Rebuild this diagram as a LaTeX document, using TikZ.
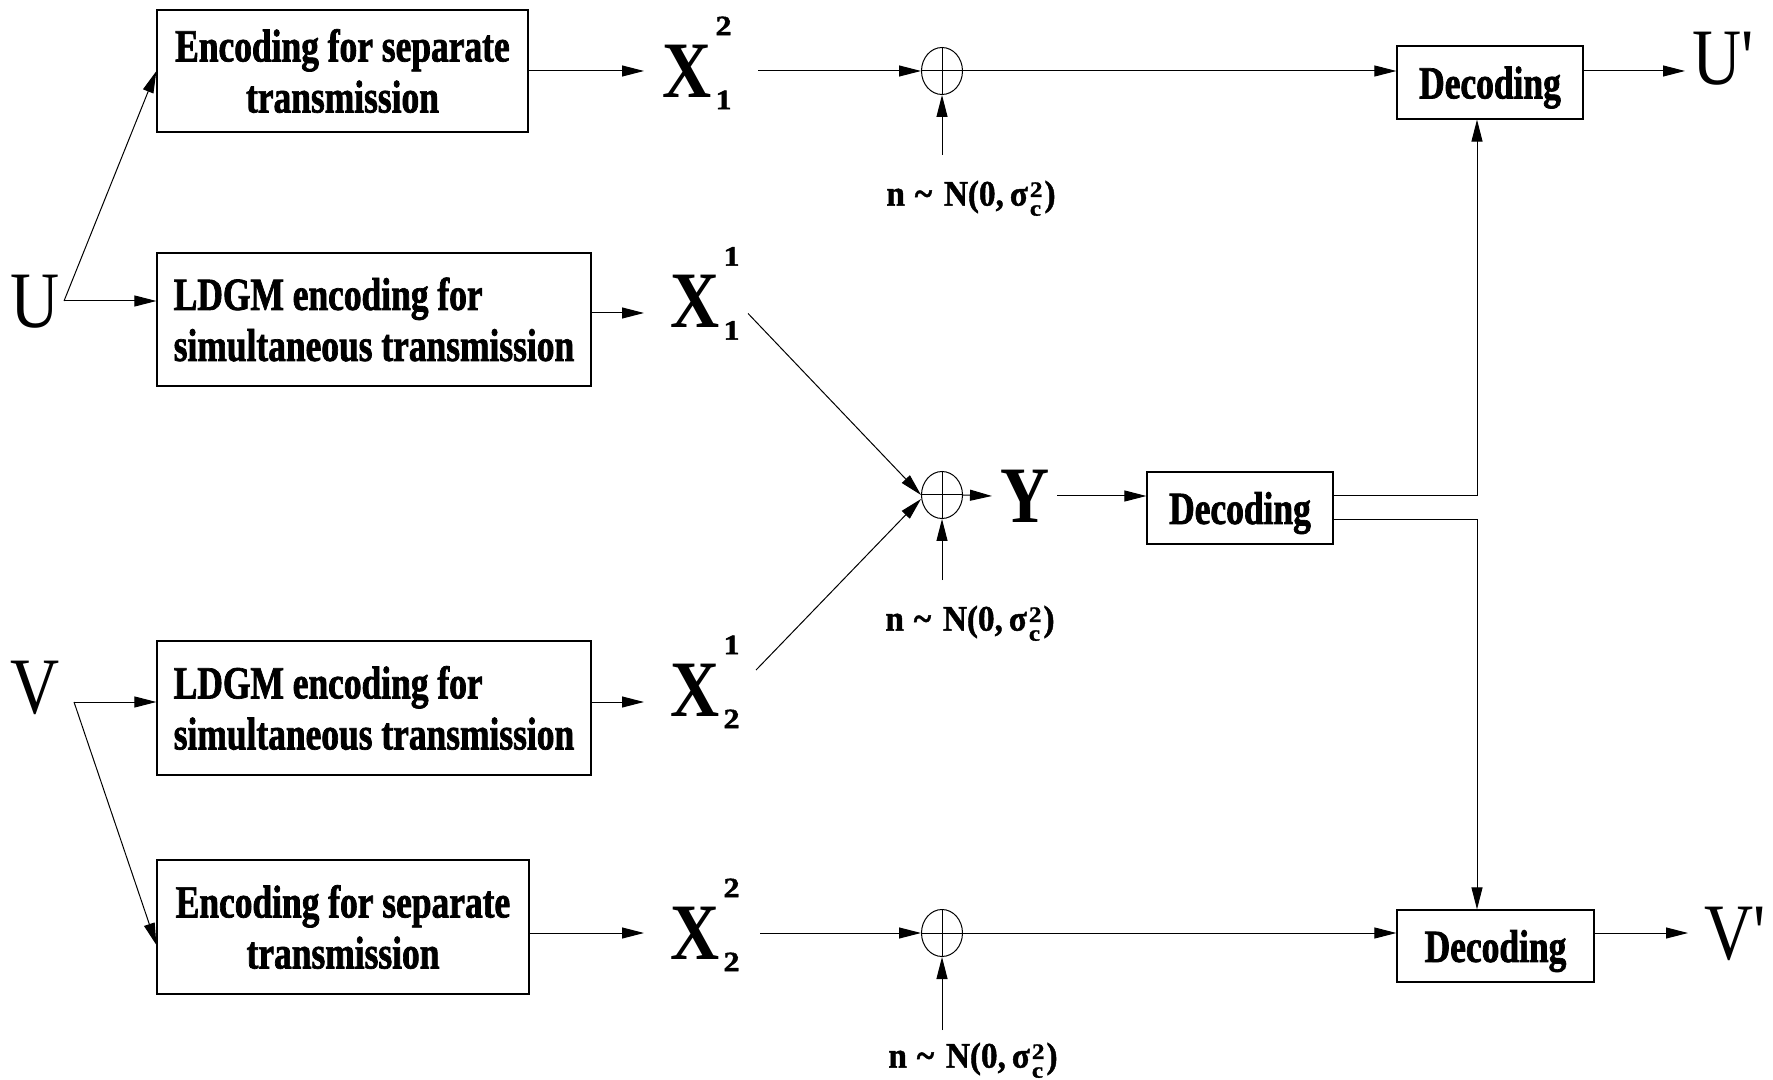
\documentclass[tikz,border=0pt]{standalone}
\usepackage{fontspec}
\newfontfamily\cond{Liberation Serif}[FakeStretch=0.77, BoldFeatures={FakeBold=1.5}]
\newfontfamily\bigfam{Liberation Serif}[FakeStretch=0.85]
\newfontfamily\digfam{Liberation Serif}[FakeStretch=1.15, BoldFeatures={FakeBold=1.5}]
\newfontfamily\noisefam{Liberation Serif}[FakeStretch=0.92, BoldFeatures={FakeBold=1.2}]
\usetikzlibrary{arrows.meta,calc,shapes.geometric}
\newcommand\boxfont{\cond\bfseries\fontsize{23}{25.5}\selectfont}
\newcommand\bigfont{\bigfam\fontsize{40}{40}\selectfont}
\newcommand\digfont{\digfam\bfseries\fontsize{14}{14}\selectfont}
\newcommand\noisefont{\noisefam\bfseries\fontsize{18}{18}\selectfont}
\newcommand\scrfont{\digfam\bfseries\fontsize{11}{11}\selectfont}
\newcommand\xlab[2]{\textbf{X}\rlap{\hspace{2pt}\smash{\digfont\raisebox{-6pt}{#1}}}\rlap{\hspace{2pt}\smash{\digfont\raisebox{31pt}{#2}}}}
\newcommand\noiselab{n\hspace{5pt}\textasciitilde\hspace{6pt}N(0,\hspace{3pt}σ\hspace{1pt}\smash{\raisebox{-5pt}{\scrfont\def\arraystretch{0.85}\begin{tabular}[b]{@{}l@{}}2\\c\end{tabular}}}\hspace{1pt})}
\begin{document}
\begin{tikzpicture}[x=0.5pt,y=-0.5pt,
  line width=0.5pt,
  arr/.style={-{Triangle[length=11pt,width=5.5pt]}},
  blk/.style={draw,line width=0.6pt,inner sep=0pt,font=\boxfont},
  decbox/.style={blk,text depth=0pt},
  big/.style={inner sep=0pt,font=\bigfont},
  sum/.style={draw,ellipse,inner sep=0pt,minimum width=20.5pt,minimum height=23.5pt},
  noise/.style={inner sep=0pt,font=\noisefont}]
\useasboundingbox (0,0) rectangle (1773,1080);
\fill[white] (0,0) rectangle (1773,1080);

% encoder boxes
\node[blk,minimum width=185.5pt,minimum height=61pt,align=center] (box1) at (342.5,71) {Encoding for separate\\transmission};
\node[blk,minimum width=217pt,minimum height=66.5pt,align=left] (box2) at (374,319.5) {LDGM encoding for\\simultaneous transmission};
\node[blk,minimum width=217pt,minimum height=67pt,align=left] (box3) at (374,708) {LDGM encoding for\\simultaneous transmission};
\node[blk,minimum width=186pt,minimum height=67pt,align=center] (box4) at (343,927) {Encoding for separate\\transmission};

% decoders
\node[decbox,minimum width=93pt,minimum height=36.5pt] (dec1) at (1490,82.5) {Decoding};
\node[decbox,minimum width=93pt,minimum height=36pt] (dec2) at (1240,508) {Decoding};
\node[decbox,minimum width=98.5pt,minimum height=36pt] (dec3) at (1495.5,946) {Decoding};

% letters
\node[big] (u) at (35,302) {U};
\node[big] (v) at (35,688) {V};
\node[big] (up) at (1724,59) {U\textquotesingle};
\node[big] (vp) at (1736,934) {V\textquotesingle};
\node[big] (x12) at (687,71) {\xlab{1}{2}};
\node[big] (x11) at (695,301.5) {\xlab{1}{1}};
\node[big] (x21) at (695,690) {\xlab{2}{1}};
\node[big] (x22) at (695,933) {\xlab{2}{2}};
\node[big,font=\bigfont\bfseries] (ysig) at (1025,496) {Y};

% adders
\node[sum] (c1) at (942,71) {};
\node[sum] (c2) at (942,495) {};
\node[sum] (c3) at (942,933) {};
\foreach \c in {c1,c2,c3} {\draw (\c.north) -- (\c.south); \draw (\c.west) -- (\c.east);}

% noise
\node[noise] (l1) at (971,197) {\noiselab};
\node[noise] (l2) at (970,622) {\noiselab};
\node[noise] (l3) at (973,1059) {\noiselab};
\coordinate (n1) at (942,155);
\coordinate (n2) at (942,580);
\coordinate (n3) at (942,1030);
\draw[arr] (n1) -- (c1.south);
\draw[arr] (n2) -- (c2.south);
\draw[arr] (n3) -- (c3.south);

% helper coordinates
\coordinate (us) at (64,301);
\coordinate (vs) at (74,702);
\coordinate (t12) at (644,71);
\coordinate (t11) at (644,313);
\coordinate (t21) at (644,702);
\coordinate (t22) at (644,933);
\coordinate (j1) at (1477,496);
\coordinate (j2) at (1477,520);
\coordinate (ut) at (1685,71);
\coordinate (vt) at (1688,933);

% connectors
\draw[arr] (us) -- (us -| box2.west);
\draw[arr] (us) -- (box1.west);
\draw[arr] (vs) -- (vs -| box3.west);
\draw[arr] (vs) -- ($(box4.west)+(0,18)$);
\draw[arr] (box1.east |- t12) -- (t12);
\draw[arr] (box2.east |- t11) -- (t11);
\draw[arr] (box3.east |- t21) -- (t21);
\draw[arr] (box4.east |- t22) -- (t22);
\draw[arr] ($(x12.east)+(46,0)$) -- (c1.west);
\draw[arr] (c1.east) -- (c1.east -| dec1.west);
\draw[arr] (dec1.east |- c1.east) -- (ut);
\draw[arr] ($(x11.east)+(28,12)$) -- (c2.west);
\draw[arr] ($(x21.east)+(36,-20)$) -- ([yshift=-2pt]c2.west);
\draw[arr] (c2.east) -- ($(ysig.west)+(-8,0)$);
\draw[arr] ($(ysig.east)+(7,0)$) -- (ysig.east -| dec2.west);
\draw[arr] (j1 -| dec2.east) -- (j1) -- (j1 |- dec1.south);
\draw[arr] (j2 -| dec2.east) -- (j2) -- (j2 |- dec3.north);
\draw[arr] ($(x22.east)+(40,0)$) -- (c3.west);
\draw[arr] (c3.east) -- (c3.east -| dec3.west);
\draw[arr] (dec3.east |- c3.east) -- (vt);
\end{tikzpicture}
\end{document}
